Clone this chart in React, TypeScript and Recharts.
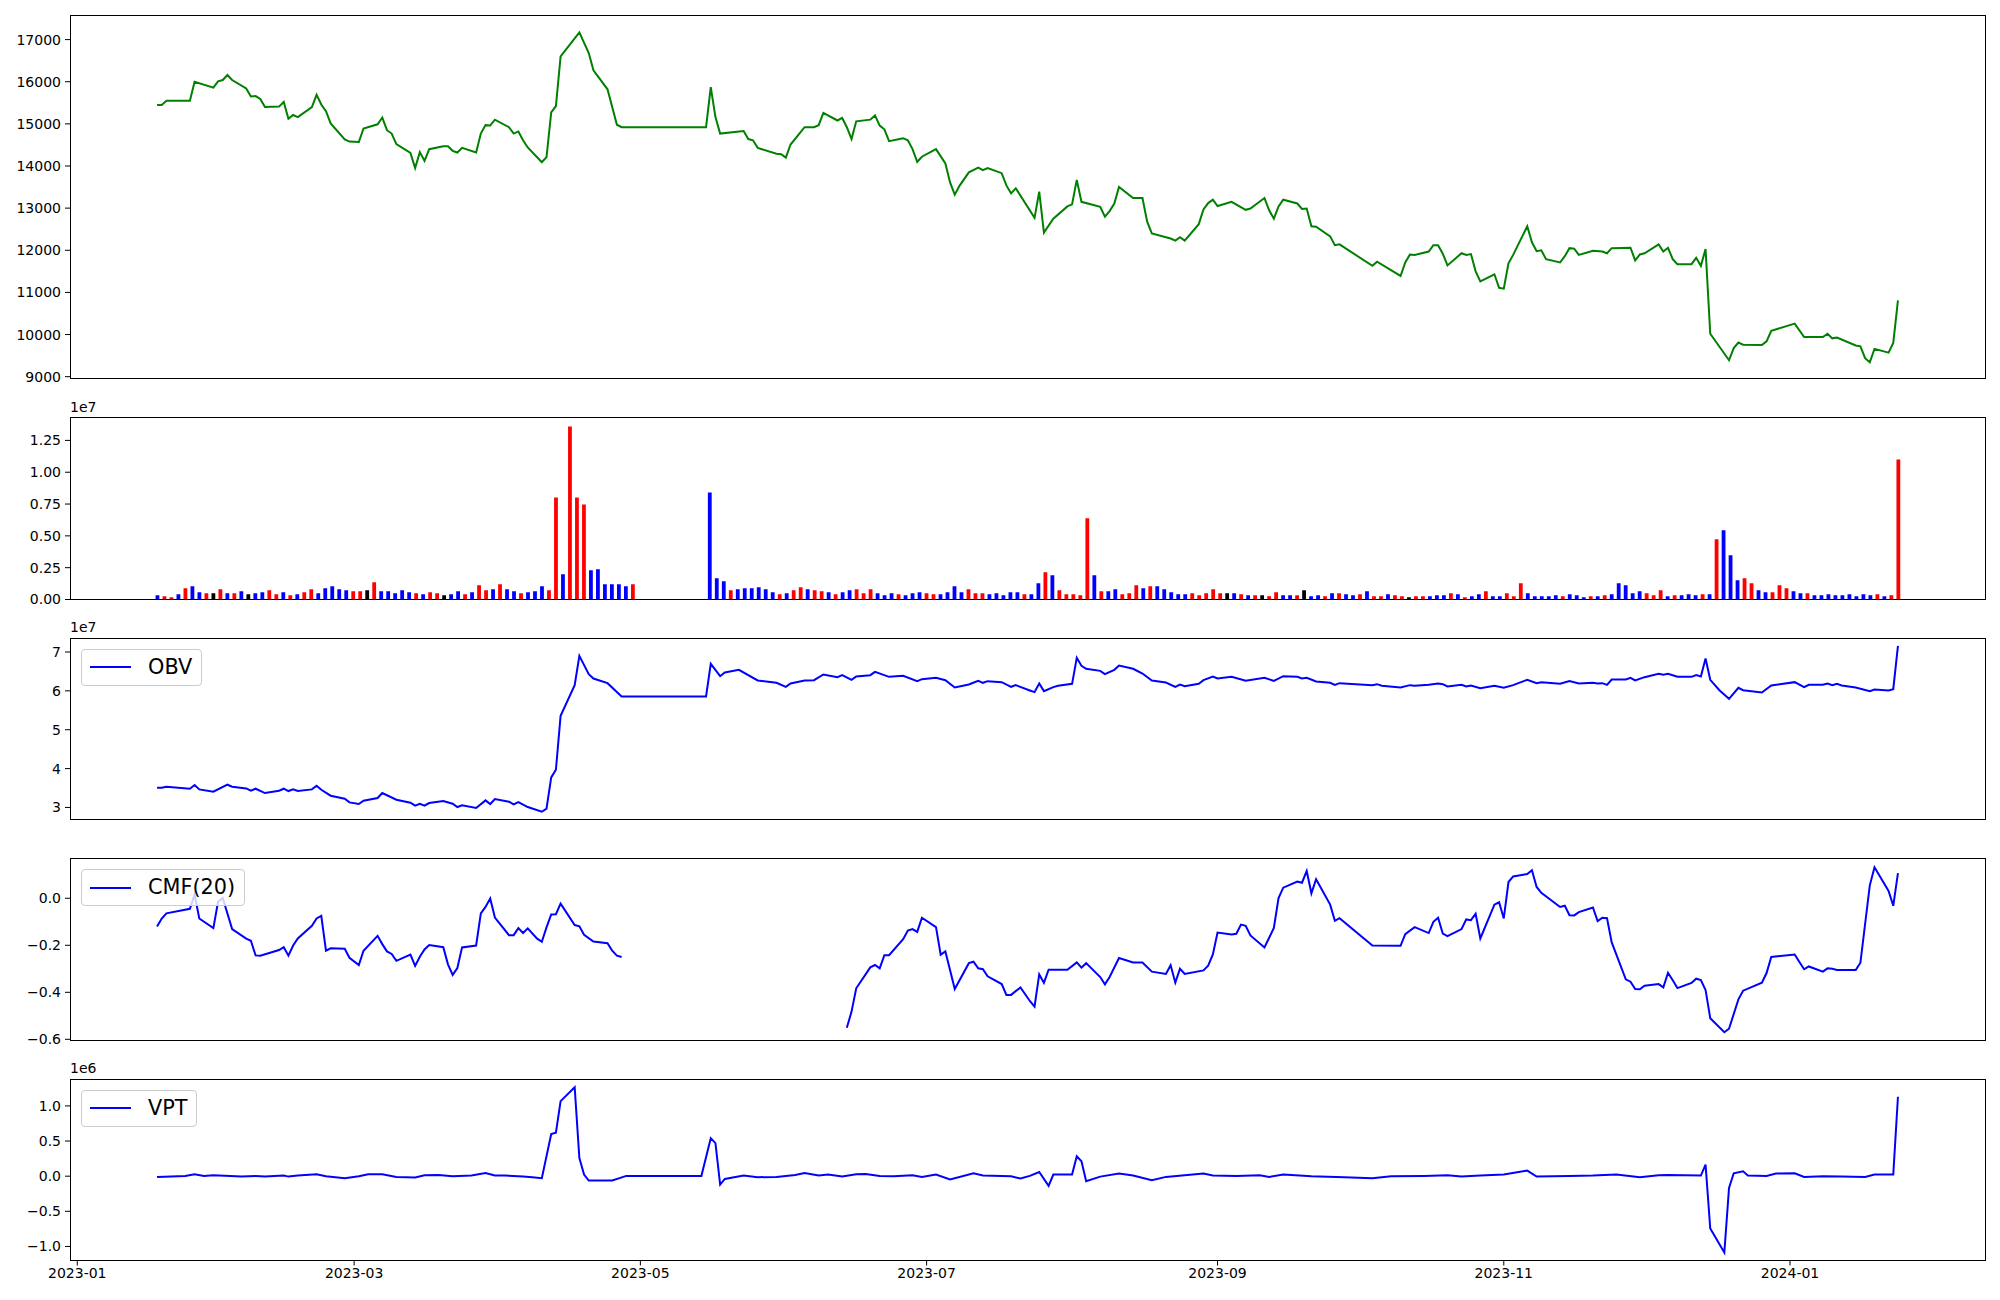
import React from "react";
import { Bar, Cell, ComposedChart, Line, XAxis, YAxis } from "recharts";

const FONT = "'DejaVu Sans', sans-serif";

// first and last session of the series; the time axis pads 5% on each side
const FIRST_DAY = "2023-01-18";
const LAST_DAY = "2024-01-24";
const X_TICKS = ["2023-01-01", "2023-03-01", "2023-05-01", "2023-07-01", "2023-09-01", "2023-11-01", "2024-01-01"];

// close price
const PRICE: [string, number][] = [
  ["2023-01-18", 15450], ["2023-01-19", 15450], ["2023-01-20", 15550], ["2023-01-25", 15550], ["2023-01-26", 16000],
  ["2023-01-30", 15860], ["2023-01-31", 16010], ["2023-02-01", 16040], ["2023-02-02", 16160], ["2023-02-03", 16040],
  ["2023-02-06", 15840], ["2023-02-07", 15650], ["2023-02-08", 15660], ["2023-02-09", 15590], ["2023-02-10", 15400],
  ["2023-02-13", 15410], ["2023-02-14", 15520], ["2023-02-15", 15120], ["2023-02-16", 15210], ["2023-02-17", 15160],
  ["2023-02-20", 15400], ["2023-02-21", 15690], ["2023-02-22", 15460], ["2023-02-23", 15300], ["2023-02-24", 15010],
  ["2023-02-27", 14630], ["2023-02-28", 14580], ["2023-03-02", 14570], ["2023-03-03", 14890], ["2023-03-06", 14990],
  ["2023-03-07", 15150], ["2023-03-08", 14850], ["2023-03-09", 14770], ["2023-03-10", 14520], ["2023-03-13", 14310],
  ["2023-03-14", 13950], ["2023-03-15", 14330], ["2023-03-16", 14120], ["2023-03-17", 14400], ["2023-03-20", 14470],
  ["2023-03-21", 14470], ["2023-03-22", 14360], ["2023-03-23", 14320], ["2023-03-24", 14430], ["2023-03-27", 14320],
  ["2023-03-28", 14770], ["2023-03-29", 14970], ["2023-03-30", 14960], ["2023-03-31", 15100], ["2023-04-03", 14920],
  ["2023-04-04", 14770], ["2023-04-05", 14820], ["2023-04-06", 14610], ["2023-04-07", 14440], ["2023-04-10", 14090],
  ["2023-04-11", 14210], ["2023-04-12", 15270], ["2023-04-13", 15420], ["2023-04-14", 16600], ["2023-04-18", 17170],
  ["2023-04-20", 16680], ["2023-04-21", 16270], ["2023-04-24", 15820], ["2023-04-26", 14980], ["2023-04-27", 14920],
  ["2023-05-15", 14920], ["2023-05-16", 15870], ["2023-05-17", 15160], ["2023-05-18", 14770], ["2023-05-23", 14830],
  ["2023-05-24", 14640], ["2023-05-25", 14610], ["2023-05-26", 14430], ["2023-05-30", 14290], ["2023-05-31", 14280],
  ["2023-06-01", 14200], ["2023-06-02", 14510], ["2023-06-05", 14920], ["2023-06-07", 14920], ["2023-06-08", 14970],
  ["2023-06-09", 15260], ["2023-06-12", 15080], ["2023-06-13", 15140], ["2023-06-14", 14920], ["2023-06-15", 14640],
  ["2023-06-16", 15060], ["2023-06-19", 15100], ["2023-06-20", 15200], ["2023-06-21", 14960], ["2023-06-22", 14870],
  ["2023-06-23", 14590], ["2023-06-26", 14660], ["2023-06-27", 14610], ["2023-06-28", 14400], ["2023-06-29", 14100],
  ["2023-06-30", 14220], ["2023-07-03", 14400], ["2023-07-05", 14060], ["2023-07-06", 13610], ["2023-07-07", 13320],
  ["2023-07-08", 13530], ["2023-07-10", 13850], ["2023-07-12", 13960], ["2023-07-13", 13900], ["2023-07-14", 13950],
  ["2023-07-17", 13830], ["2023-07-18", 13540], ["2023-07-19", 13350], ["2023-07-20", 13470], ["2023-07-24", 12770],
  ["2023-07-25", 13390], ["2023-07-26", 12420], ["2023-07-28", 12750], ["2023-07-31", 13040], ["2023-08-01", 13090],
  ["2023-08-02", 13670], ["2023-08-03", 13150], ["2023-08-07", 13030], ["2023-08-08", 12800], ["2023-08-09", 12930],
  ["2023-08-10", 13110], ["2023-08-11", 13500], ["2023-08-14", 13240], ["2023-08-16", 13240], ["2023-08-17", 12680],
  ["2023-08-18", 12400], ["2023-08-21", 12310], ["2023-08-22", 12280], ["2023-08-23", 12230], ["2023-08-24", 12310],
  ["2023-08-25", 12230], ["2023-08-28", 12620], ["2023-08-29", 12970], ["2023-08-30", 13120], ["2023-08-31", 13200],
  ["2023-09-01", 13050], ["2023-09-04", 13150], ["2023-09-07", 12960], ["2023-09-08", 12990], ["2023-09-11", 13240],
  ["2023-09-12", 12950], ["2023-09-13", 12750], ["2023-09-14", 13040], ["2023-09-15", 13200], ["2023-09-18", 13110],
  ["2023-09-19", 12980], ["2023-09-20", 12990], ["2023-09-21", 12570], ["2023-09-22", 12560], ["2023-09-25", 12330],
  ["2023-09-26", 12120], ["2023-09-27", 12140], ["2023-10-04", 11630], ["2023-10-05", 11730], ["2023-10-10", 11390],
  ["2023-10-11", 11710], ["2023-10-12", 11900], ["2023-10-13", 11890], ["2023-10-16", 11970], ["2023-10-17", 12120],
  ["2023-10-18", 12120], ["2023-10-19", 11920], ["2023-10-20", 11640], ["2023-10-23", 11930], ["2023-10-24", 11890],
  ["2023-10-25", 11910], ["2023-10-26", 11500], ["2023-10-27", 11260], ["2023-10-30", 11430], ["2023-10-31", 11110],
  ["2023-11-01", 11090], ["2023-11-02", 11690], ["2023-11-03", 11890], ["2023-11-06", 12570], ["2023-11-07", 12190],
  ["2023-11-08", 11980], ["2023-11-09", 12000], ["2023-11-10", 11790], ["2023-11-13", 11710], ["2023-11-14", 11860],
  ["2023-11-15", 12050], ["2023-11-16", 12040], ["2023-11-17", 11890], ["2023-11-20", 11990], ["2023-11-22", 11970],
  ["2023-11-23", 11930], ["2023-11-24", 12050], ["2023-11-28", 12060], ["2023-11-29", 11760], ["2023-11-30", 11900],
  ["2023-12-01", 11930], ["2023-12-04", 12140], ["2023-12-05", 11970], ["2023-12-06", 12060], ["2023-12-07", 11790],
  ["2023-12-08", 11670], ["2023-12-11", 11670], ["2023-12-12", 11820], ["2023-12-13", 11630], ["2023-12-14", 12030],
  ["2023-12-15", 10020], ["2023-12-19", 9390], ["2023-12-20", 9680], ["2023-12-21", 9810], ["2023-12-22", 9760],
  ["2023-12-26", 9750], ["2023-12-27", 9840], ["2023-12-28", 10090], ["2024-01-02", 10260], ["2024-01-04", 9940],
  ["2024-01-08", 9940], ["2024-01-09", 10020], ["2024-01-10", 9910], ["2024-01-11", 9930], ["2024-01-15", 9740],
  ["2024-01-16", 9720], ["2024-01-17", 9440], ["2024-01-18", 9340], ["2024-01-19", 9660], ["2024-01-22", 9570],
  ["2024-01-23", 9800], ["2024-01-24", 10810],
];

// daily volume, one bar per session, null where nothing traded
const VOLUME: (number | null)[] = [
  340000, 261000, 183000, 418000, 888000, 1045000, 575000, 496000, 496000, 810000,
  496000, 496000, 653000, 418000, 496000, 575000, 731000, 418000, 575000, 340000,
  418000, 575000, 810000, 496000, 888000, 1045000, 810000, 731000, 653000, 653000,
  731000, 1358000, 653000, 653000, 496000, 731000, 575000, 496000, 418000, 575000,
  496000, 340000, 418000, 653000, 418000, 575000, 1123000, 731000, 810000, 1202000,
  810000, 653000, 496000, 575000, 653000, 1045000, 731000, 8020000, 1985000, 13584000,
  8020000, 7471000, 2299000, 2377000, 1202000, 1202000, 1202000, 1045000, 1202000, null,
  null, null, null, null, null, null, null, null, null, 8412000,
  1672000, 1437000, 731000, 810000, 888000, 888000, 967000, 810000, 575000, 418000,
  496000, 731000, 967000, 810000, 731000, 653000, 575000, 418000, 575000, 731000,
  810000, 496000, 810000, 496000, 340000, 496000, 418000, 340000, 496000, 575000,
  496000, 418000, 418000, 575000, 1045000, 575000, 810000, 496000, 496000, 418000,
  496000, 340000, 575000, 575000, 418000, 418000, 1280000, 2142000, 1907000, 731000,
  418000, 418000, 340000, 6374000, 1907000, 653000, 653000, 810000, 418000, 496000,
  1123000, 888000, 1045000, 1045000, 810000, 575000, 418000, 418000, 496000, 340000,
  496000, 810000, 496000, 496000, 496000, 418000, 340000, 340000, 340000, 261000,
  575000, 340000, 340000, 340000, 731000, 261000, 340000, 261000, 496000, 496000,
  418000, 340000, 418000, 653000, 261000, 261000, 418000, 340000, 261000, 183000,
  261000, 261000, 261000, 340000, 340000, 496000, 418000, 183000, 261000, 418000,
  653000, 261000, 261000, 496000, 261000, 1280000, 496000, 261000, 261000, 261000,
  340000, 261000, 418000, 340000, 183000, 261000, 261000, 340000, 418000, 1280000,
  1123000, 496000, 653000, 496000, 340000, 731000, 261000, 340000, 340000, 418000,
  340000, 418000, 418000, 4728000, 5434000, 3474000, 1515000, 1672000, 1280000, 731000,
  575000, 575000, 1123000, 888000, 653000, 496000, 496000, 340000, 340000, 418000,
  340000, 340000, 418000, 261000, 418000, 340000, 418000, 261000, 340000, 10998000,
];

// bar colour per session: r = red, b = blue, k = black, - = no bar
const VOLUME_COLOR =
  "brrbrbbrkr" + "brbkbbrrbr" + "brrbbbbbrr" + "krbbbbbrbr" + "rkbbrbrrbr" +
  "bbrbbbrrbr" + "rrbbbbbbr-" + "---------b" + "bbrbbbbbbr" + "brrbrrbrbb" +
  "rrrbbbrbbb" + "rrbbbbrrrb" + "bbbbrbbrbr" + "rrrrbrbbrr" + "rbrbbbbbrr" +
  "rrrkbrbrkr" + "rbbrkbbrbr" + "bbrbrrbrrk" + "rrbbbrbrbb" + "rbbrrrbbbb" +
  "brbbbrbrbb" + "bbbrrrbrbb" + "brbrbbbrrb" + "brrrbbrbbb" + "bbbbbbrbrr";

// on-balance volume, millions of shares
const OBV: [string, number][] = [
  ["2023-01-18", 35.07], ["2023-01-19", 35.07], ["2023-01-20", 35.33], ["2023-01-25", 34.82], ["2023-01-26", 35.76],
  ["2023-01-27", 34.65], ["2023-01-30", 34.05], ["2023-02-02", 35.85], ["2023-02-03", 35.33], ["2023-02-06", 34.9],
  ["2023-02-07", 34.3], ["2023-02-08", 34.82], ["2023-02-10", 33.7], ["2023-02-13", 34.3], ["2023-02-14", 34.82],
  ["2023-02-15", 34.22], ["2023-02-16", 34.65], ["2023-02-17", 34.22], ["2023-02-20", 34.65], ["2023-02-21", 35.59],
  ["2023-02-22", 34.56], ["2023-02-24", 33.02], ["2023-02-27", 32.25], ["2023-02-28", 31.3], ["2023-03-02", 30.88],
  ["2023-03-03", 31.73], ["2023-03-06", 32.42], ["2023-03-07", 33.7], ["2023-03-10", 31.99], ["2023-03-13", 31.22],
  ["2023-03-14", 30.45], ["2023-03-15", 30.96], ["2023-03-16", 30.45], ["2023-03-17", 31.13], ["2023-03-20", 31.65],
  ["2023-03-22", 30.96], ["2023-03-23", 30.11], ["2023-03-24", 30.53], ["2023-03-27", 29.85], ["2023-03-29", 31.82],
  ["2023-03-30", 30.88], ["2023-03-31", 32.16], ["2023-04-03", 31.48], ["2023-04-04", 30.79], ["2023-04-05", 31.39],
  ["2023-04-07", 30.11], ["2023-04-10", 28.9], ["2023-04-11", 29.68], ["2023-04-12", 37.73], ["2023-04-13", 39.7],
  ["2023-04-14", 53.58], ["2023-04-17", 61.47], ["2023-04-18", 69.01], ["2023-04-20", 64.29], ["2023-04-21", 63.18],
  ["2023-04-24", 61.98], ["2023-04-27", 58.55], ["2023-05-15", 58.55], ["2023-05-16", 66.95], ["2023-05-18", 63.78],
  ["2023-05-19", 64.72], ["2023-05-22", 65.41], ["2023-05-26", 62.67], ["2023-05-30", 62.07], ["2023-06-01", 61.04],
  ["2023-06-02", 61.9], ["2023-06-05", 62.67], ["2023-06-07", 62.75], ["2023-06-09", 64.21], ["2023-06-12", 63.52],
  ["2023-06-13", 64.04], ["2023-06-15", 62.84], ["2023-06-16", 63.7], ["2023-06-19", 64.04], ["2023-06-20", 64.89],
  ["2023-06-23", 63.61], ["2023-06-26", 63.87], ["2023-06-29", 62.49], ["2023-06-30", 63.01], ["2023-07-03", 63.35],
  ["2023-07-05", 62.75], ["2023-07-07", 60.87], ["2023-07-10", 61.64], ["2023-07-12", 62.58], ["2023-07-13", 62.07],
  ["2023-07-14", 62.5], ["2023-07-17", 62.24], ["2023-07-19", 61.04], ["2023-07-20", 61.47], ["2023-07-23", 60.1],
  ["2023-07-24", 59.67], ["2023-07-25", 61.9], ["2023-07-26", 59.93], ["2023-07-28", 60.95], ["2023-07-29", 61.3],
  ["2023-08-01", 61.81], ["2023-08-02", 68.49], ["2023-08-03", 66.44], ["2023-08-04", 65.67], ["2023-08-07", 65.15],
  ["2023-08-08", 64.29], ["2023-08-10", 65.41], ["2023-08-11", 66.52], ["2023-08-14", 65.67], ["2023-08-16", 64.47],
  ["2023-08-18", 62.67], ["2023-08-21", 62.15], ["2023-08-23", 61.04], ["2023-08-24", 61.64], ["2023-08-25", 61.21],
  ["2023-08-28", 61.81], ["2023-08-29", 62.75], ["2023-08-31", 63.7], ["2023-09-01", 63.18], ["2023-09-04", 63.61],
  ["2023-09-07", 62.58], ["2023-09-11", 63.35], ["2023-09-13", 62.58], ["2023-09-15", 63.78], ["2023-09-18", 63.61],
  ["2023-09-19", 63.18], ["2023-09-20", 63.35], ["2023-09-22", 62.41], ["2023-09-25", 62.07], ["2023-09-26", 61.55],
  ["2023-09-27", 61.98], ["2023-10-04", 61.47], ["2023-10-05", 61.72], ["2023-10-06", 61.3], ["2023-10-10", 60.87],
  ["2023-10-12", 61.47], ["2023-10-13", 61.3], ["2023-10-16", 61.55], ["2023-10-18", 61.9], ["2023-10-19", 61.72],
  ["2023-10-20", 61.12], ["2023-10-23", 61.55], ["2023-10-24", 61.12], ["2023-10-25", 61.38], ["2023-10-27", 60.7],
  ["2023-10-30", 61.3], ["2023-11-01", 60.78], ["2023-11-03", 61.47], ["2023-11-06", 62.84], ["2023-11-08", 61.98],
  ["2023-11-09", 62.24], ["2023-11-13", 61.81], ["2023-11-15", 62.5], ["2023-11-17", 61.9], ["2023-11-20", 62.07],
  ["2023-11-21", 61.9], ["2023-11-22", 61.98], ["2023-11-23", 61.55], ["2023-11-24", 62.92], ["2023-11-27", 62.92],
  ["2023-11-28", 63.35], ["2023-11-29", 62.67], ["2023-12-01", 63.52], ["2023-12-04", 64.38], ["2023-12-05", 64.12],
  ["2023-12-06", 64.38], ["2023-12-08", 63.61], ["2023-12-11", 63.61], ["2023-12-12", 64.04], ["2023-12-13", 63.7],
  ["2023-12-14", 68.32], ["2023-12-15", 62.84], ["2023-12-17", 60.1], ["2023-12-19", 57.95], ["2023-12-21", 60.78],
  ["2023-12-22", 60.18], ["2023-12-26", 59.58], ["2023-12-28", 61.38], ["2024-01-02", 62.24], ["2024-01-04", 60.95],
  ["2024-01-05", 61.55], ["2024-01-08", 61.55], ["2024-01-09", 61.9], ["2024-01-10", 61.47], ["2024-01-11", 61.81],
  ["2024-01-12", 61.38], ["2024-01-15", 60.87], ["2024-01-18", 59.93], ["2024-01-19", 60.35], ["2024-01-22", 60.1],
  ["2024-01-23", 60.44], ["2024-01-24", 71.58],
];

// Chaikin money flow, 20 sessions (undefined while the window has no volume)
const CMF: [string, number | null][] = [
  ["2023-01-18", -0.12], ["2023-01-19", -0.086], ["2023-01-20", -0.064], ["2023-01-25", -0.045], ["2023-01-26", 0.016],
  ["2023-01-27", -0.086], ["2023-01-30", -0.127], ["2023-01-31", -0.015], ["2023-02-01", 0.001], ["2023-02-03", -0.131],
  ["2023-02-06", -0.172], ["2023-02-07", -0.181], ["2023-02-08", -0.243], ["2023-02-09", -0.244], ["2023-02-13", -0.22],
  ["2023-02-14", -0.208], ["2023-02-15", -0.244], ["2023-02-16", -0.201], ["2023-02-17", -0.171], ["2023-02-20", -0.117],
  ["2023-02-21", -0.086], ["2023-02-22", -0.075], ["2023-02-23", -0.223], ["2023-02-24", -0.213], ["2023-02-27", -0.215],
  ["2023-02-28", -0.253], ["2023-03-02", -0.284], ["2023-03-03", -0.223], ["2023-03-06", -0.16], ["2023-03-07", -0.195],
  ["2023-03-08", -0.226], ["2023-03-09", -0.237], ["2023-03-10", -0.266], ["2023-03-13", -0.24], ["2023-03-14", -0.288],
  ["2023-03-15", -0.249], ["2023-03-16", -0.218], ["2023-03-17", -0.199], ["2023-03-20", -0.208], ["2023-03-21", -0.281],
  ["2023-03-22", -0.326], ["2023-03-23", -0.297], ["2023-03-24", -0.209], ["2023-03-27", -0.201], ["2023-03-28", -0.064],
  ["2023-03-29", -0.037], ["2023-03-30", -0.001], ["2023-03-31", -0.082], ["2023-04-03", -0.157], ["2023-04-04", -0.157],
  ["2023-04-05", -0.127], ["2023-04-06", -0.148], ["2023-04-07", -0.128], ["2023-04-09", -0.172], ["2023-04-10", -0.185],
  ["2023-04-11", -0.124], ["2023-04-12", -0.069], ["2023-04-13", -0.068], ["2023-04-14", -0.023], ["2023-04-17", -0.114],
  ["2023-04-18", -0.119], ["2023-04-19", -0.155], ["2023-04-21", -0.184], ["2023-04-24", -0.191], ["2023-04-25", -0.223],
  ["2023-04-26", -0.244], ["2023-04-27", -0.25], ["2023-05-15", null],
  ["2023-06-14", -0.551], ["2023-06-15", -0.482], ["2023-06-16", -0.383], ["2023-06-19", -0.294], ["2023-06-20", -0.284],
  ["2023-06-21", -0.298], ["2023-06-22", -0.242], ["2023-06-23", -0.242], ["2023-06-26", -0.174], ["2023-06-27", -0.137],
  ["2023-06-28", -0.131], ["2023-06-29", -0.143], ["2023-06-30", -0.083], ["2023-07-03", -0.123], ["2023-07-04", -0.24],
  ["2023-07-05", -0.226], ["2023-07-07", -0.386], ["2023-07-10", -0.276], ["2023-07-11", -0.27], ["2023-07-12", -0.298],
  ["2023-07-13", -0.302], ["2023-07-14", -0.332], ["2023-07-17", -0.365], ["2023-07-18", -0.411], ["2023-07-19", -0.411],
  ["2023-07-21", -0.379], ["2023-07-23", -0.437], ["2023-07-24", -0.461], ["2023-07-25", -0.324], ["2023-07-26", -0.36],
  ["2023-07-27", -0.304], ["2023-07-31", -0.304], ["2023-08-02", -0.273], ["2023-08-03", -0.295], ["2023-08-04", -0.276],
  ["2023-08-07", -0.335], ["2023-08-08", -0.366], ["2023-08-09", -0.335], ["2023-08-11", -0.254], ["2023-08-14", -0.273],
  ["2023-08-16", -0.273], ["2023-08-18", -0.312], ["2023-08-21", -0.322], ["2023-08-22", -0.285], ["2023-08-23", -0.359],
  ["2023-08-24", -0.3], ["2023-08-25", -0.322], ["2023-08-29", -0.307], ["2023-08-30", -0.287], ["2023-08-31", -0.239],
  ["2023-09-01", -0.146], ["2023-09-04", -0.154], ["2023-09-05", -0.151], ["2023-09-06", -0.112], ["2023-09-07", -0.117],
  ["2023-09-08", -0.158], ["2023-09-11", -0.209], ["2023-09-12", -0.168], ["2023-09-13", -0.126], ["2023-09-14", 0.001],
  ["2023-09-15", 0.045], ["2023-09-18", 0.071], ["2023-09-19", 0.066], ["2023-09-20", 0.116], ["2023-09-21", 0.021],
  ["2023-09-22", 0.081], ["2023-09-25", -0.027], ["2023-09-26", -0.096], ["2023-09-27", -0.085], ["2023-10-04", -0.201],
  ["2023-10-10", -0.202], ["2023-10-11", -0.153], ["2023-10-13", -0.123], ["2023-10-16", -0.148], ["2023-10-17", -0.1],
  ["2023-10-18", -0.083], ["2023-10-19", -0.15], ["2023-10-20", -0.161], ["2023-10-23", -0.131], ["2023-10-24", -0.09],
  ["2023-10-25", -0.093], ["2023-10-26", -0.066], ["2023-10-27", -0.171], ["2023-10-30", -0.027], ["2023-10-31", -0.017],
  ["2023-11-01", -0.086], ["2023-11-02", 0.069], ["2023-11-03", 0.093], ["2023-11-06", 0.103], ["2023-11-07", 0.119],
  ["2023-11-08", 0.048], ["2023-11-09", 0.023], ["2023-11-13", -0.037], ["2023-11-14", -0.032], ["2023-11-15", -0.072],
  ["2023-11-16", -0.073], ["2023-11-17", -0.059], ["2023-11-20", -0.039], ["2023-11-21", -0.097], ["2023-11-22", -0.083],
  ["2023-11-23", -0.085], ["2023-11-24", -0.188], ["2023-11-27", -0.345], ["2023-11-28", -0.355], ["2023-11-29", -0.386],
  ["2023-11-30", -0.387], ["2023-12-01", -0.372], ["2023-12-04", -0.365], ["2023-12-05", -0.379], ["2023-12-06", -0.317],
  ["2023-12-07", -0.349], ["2023-12-08", -0.382], ["2023-12-11", -0.36], ["2023-12-12", -0.342], ["2023-12-13", -0.348],
  ["2023-12-14", -0.39], ["2023-12-15", -0.51], ["2023-12-18", -0.57], ["2023-12-19", -0.555], ["2023-12-21", -0.43],
  ["2023-12-22", -0.393], ["2023-12-26", -0.359], ["2023-12-27", -0.318], ["2023-12-28", -0.25], ["2024-01-02", -0.239],
  ["2024-01-03", -0.271], ["2024-01-04", -0.302], ["2024-01-05", -0.29], ["2024-01-08", -0.312], ["2024-01-09", -0.298],
  ["2024-01-10", -0.3], ["2024-01-11", -0.305], ["2024-01-15", -0.305], ["2024-01-16", -0.274], ["2024-01-18", 0.055],
  ["2024-01-19", 0.132], ["2024-01-22", 0.031], ["2024-01-23", -0.032], ["2024-01-24", 0.107],
];

// volume price trend, millions
const VPT: [string, number][] = [
  ["2023-01-18", -0.01], ["2023-01-24", 0.004], ["2023-01-26", 0.027], ["2023-01-28", 0.004], ["2023-01-30", 0.013],
  ["2023-02-05", -0.006], ["2023-02-08", 0.004], ["2023-02-10", -0.006], ["2023-02-14", 0.009], ["2023-02-15", -0.006],
  ["2023-02-17", 0.009], ["2023-02-21", 0.027], ["2023-02-23", -0.001], ["2023-02-27", -0.029], ["2023-03-02", -0.001],
  ["2023-03-04", 0.027], ["2023-03-07", 0.027], ["2023-03-10", -0.01], ["2023-03-14", -0.02], ["2023-03-16", 0.013],
  ["2023-03-19", 0.018], ["2023-03-22", -0.001], ["2023-03-26", 0.009], ["2023-03-29", 0.046], ["2023-03-31", 0.009],
  ["2023-04-02", 0.009], ["2023-04-06", -0.006], ["2023-04-08", -0.015], ["2023-04-10", -0.029], ["2023-04-12", 0.6],
  ["2023-04-13", 0.62], ["2023-04-14", 1.068], ["2023-04-17", 1.266], ["2023-04-18", 0.258], ["2023-04-19", 0.023],
  ["2023-04-20", -0.062], ["2023-04-25", -0.062], ["2023-04-28", 0.004], ["2023-05-14", 0.004], ["2023-05-16", 0.541],
  ["2023-05-17", 0.47], ["2023-05-18", -0.119], ["2023-05-19", -0.039], ["2023-05-23", 0.009], ["2023-05-26", -0.015],
  ["2023-05-30", -0.01], ["2023-06-03", 0.018], ["2023-06-05", 0.046], ["2023-06-08", 0.009], ["2023-06-10", 0.023],
  ["2023-06-13", -0.006], ["2023-06-16", 0.027], ["2023-06-18", 0.032], ["2023-06-21", 0.004], ["2023-06-24", -0.001],
  ["2023-06-28", 0.013], ["2023-06-30", -0.01], ["2023-07-03", 0.023], ["2023-07-06", -0.048], ["2023-07-11", 0.041],
  ["2023-07-13", 0.009], ["2023-07-19", -0.001], ["2023-07-21", -0.034], ["2023-07-23", 0.004], ["2023-07-25", 0.06],
  ["2023-07-27", -0.138], ["2023-07-28", 0.023], ["2023-08-01", 0.023], ["2023-08-02", 0.282], ["2023-08-03", 0.211],
  ["2023-08-04", -0.072], ["2023-08-07", -0.006], ["2023-08-11", 0.037], ["2023-08-14", 0.009], ["2023-08-18", -0.057],
  ["2023-08-21", -0.01], ["2023-08-25", 0.013], ["2023-08-29", 0.037], ["2023-08-31", 0.009], ["2023-09-05", 0.004],
  ["2023-09-10", 0.013], ["2023-09-12", -0.01], ["2023-09-15", 0.023], ["2023-09-21", -0.001], ["2023-09-28", -0.015],
  ["2023-10-04", -0.029], ["2023-10-08", -0.001], ["2023-10-15", 0.004], ["2023-10-20", 0.013], ["2023-10-23", -0.006],
  ["2023-10-27", 0.009], ["2023-11-01", 0.023], ["2023-11-06", 0.08], ["2023-11-08", -0.006], ["2023-11-15", 0.004],
  ["2023-11-20", 0.009], ["2023-11-25", 0.023], ["2023-11-30", -0.015], ["2023-12-04", 0.013], ["2023-12-06", 0.018],
  ["2023-12-13", 0.009], ["2023-12-14", 0.164], ["2023-12-15", -0.745], ["2023-12-18", -1.085], ["2023-12-19", -0.166],
  ["2023-12-20", 0.041], ["2023-12-22", 0.069], ["2023-12-23", 0.009], ["2023-12-27", 0.004], ["2023-12-29", 0.037],
  ["2024-01-02", 0.041], ["2024-01-04", -0.01], ["2024-01-08", -0.001], ["2024-01-12", -0.006], ["2024-01-17", -0.01],
  ["2024-01-19", 0.023], ["2024-01-23", 0.023], ["2024-01-24", 1.131],
];

const BAR_FILL: Record<string, string> = { r: "#ff0000", b: "#0000ff", k: "#000000", "-": "none" };

const t0 = Date.parse(FIRST_DAY);
const t1 = Date.parse(LAST_DAY);
const pad = (t1 - t0) * 0.05;
const X_DOMAIN: [number, number] = [t0 - pad, t1 + pad];
const X_TICK_TS = X_TICKS.map((d) => Date.parse(d));

const toRows = (rows: [string, number | null][], k = 1) =>
  rows.map(([d, v]) => ({ t: Date.parse(d), v: v === null ? null : v * k }));

const priceRows = toRows(PRICE);
const obvRows = toRows(OBV, 1e6);
const cmfRows = toRows(CMF);
const vptRows = toRows(VPT, 1e6);
// the volume bars sit on an even grid between the first and last session
const volumeRows = VOLUME.map((v, i) => ({
  t: t0 + ((t1 - t0) * i) / (VOLUME.length - 1),
  v,
  c: VOLUME_COLOR[i] ?? "b",
}));

const minus = (s: string) => s.replace("-", "\u2212");
const monthLabel = (t: number) => {
  const d = new Date(t);
  return `${d.getUTCFullYear()}-${String(d.getUTCMonth() + 1).padStart(2, "0")}`;
};

const TICK = { fill: "#000", fontSize: 14, fontFamily: FONT };
const PLOT_LEFT = 70;
const PLOT_RIGHT = 1985;

type PanelProps = {
  top: number;
  height: number;
  data: object[];
  yDomain: [number, number];
  yTicks: number[];
  yFormat: (v: number) => string;
  showX?: boolean;
  children: React.ReactNode;
};

function Panel({ top, height, data, yDomain, yTicks, yFormat, showX = false, children }: PanelProps) {
  const mt = 10;
  const mb = showX ? 0 : 10;
  const xh = showX ? 40 : 0;
  return (
    <div style={{ position: "absolute", left: 0, top: top - mt }}>
      <ComposedChart
        width={2000}
        height={mt + height + mb + xh}
        data={data}
        margin={{ top: mt, right: 2000 - PLOT_RIGHT, bottom: mb, left: 0 }}
      >
        <XAxis
          type="number"
          dataKey="t"
          domain={X_DOMAIN}
          allowDataOverflow
          hide={!showX}
          height={xh}
          ticks={X_TICK_TS}
          interval={0}
          tickFormatter={monthLabel}
          axisLine={false}
          tickLine={{ stroke: "#000", strokeWidth: 1 }}
          tickSize={5}
          tickMargin={3}
          tick={TICK}
        />
        <YAxis
          type="number"
          width={PLOT_LEFT}
          domain={yDomain}
          allowDataOverflow
          ticks={yTicks}
          interval={0}
          tickFormatter={yFormat}
          axisLine={false}
          tickLine={{ stroke: "#000", strokeWidth: 1 }}
          tickSize={5}
          tickMargin={4}
          tick={TICK}
        />
        {children}
      </ComposedChart>
      <div
        style={{
          position: "absolute",
          left: PLOT_LEFT - 0.5,
          top: mt - 0.5,
          width: PLOT_RIGHT - PLOT_LEFT + 1,
          height: height + 1,
          border: "1px solid #000",
          boxSizing: "border-box",
          pointerEvents: "none",
        }}
      />
    </div>
  );
}

function LegendBox({ top, label }: { top: number; label: string }) {
  return (
    <div
      style={{
        position: "absolute",
        left: 80.6,
        top: top + 10.4,
        display: "flex",
        alignItems: "center",
        padding: "8px 8.3px",
        fontFamily: FONT,
        fontSize: 20.8,
        lineHeight: "19px",
        background: "rgba(255,255,255,0.8)",
        border: "1px solid #cccccc",
        borderRadius: 4,
        color: "#000",
      }}
    >
      <span style={{ display: "inline-block", width: 41.6, height: 2, background: "#0000ff", marginRight: 16.6 }} />
      <span>{label}</span>
    </div>
  );
}

function OffsetText({ top, text }: { top: number; text: string }) {
  return (
    <div
      style={{
        position: "absolute",
        left: PLOT_LEFT,
        top: top - 19,
        fontFamily: FONT,
        fontSize: 14,
        lineHeight: "16px",
        color: "#000",
      }}
    >
      {text}
    </div>
  );
}

const P = [15.5, 417.6, 638.2, 858.8, 1079.4];
const H_MAIN = 363;
const H_SUB = 181.5;

export default function App() {
  return (
    <div style={{ position: "absolute", left: 0, top: 0, width: 2000, height: 1300, background: "#fff" }}>
      <Panel
        top={P[0]}
        height={H_MAIN}
        data={priceRows}
        yDomain={[8945, 17560]}
        yTicks={[9000, 10000, 11000, 12000, 13000, 14000, 15000, 16000, 17000]}
        yFormat={(v) => String(v)}
      >
        <Line type="linear" dataKey="v" stroke="#008000" strokeWidth={2} dot={false} isAnimationActive={false} />
      </Panel>

      <Panel
        top={P[1]}
        height={H_SUB}
        data={volumeRows}
        yDomain={[0, 14260000]}
        yTicks={[0, 2500000, 5000000, 7500000, 10000000, 12500000]}
        yFormat={(v) => (v / 1e7).toFixed(2)}
      >
        <Bar dataKey="v" barSize={3.8} isAnimationActive={false}>
          {volumeRows.map((r, i) => (
            <Cell key={i} fill={BAR_FILL[r.c]} />
          ))}
        </Bar>
      </Panel>
      <OffsetText top={P[1]} text="1e7" />

      <Panel
        top={P[2]}
        height={H_SUB}
        data={obvRows}
        yDomain={[26.9e6, 73.6e6]}
        yTicks={[3e7, 4e7, 5e7, 6e7, 7e7]}
        yFormat={(v) => String(Math.round(v / 1e7))}
      >
        <Line type="linear" dataKey="v" stroke="#0000ff" strokeWidth={2} dot={false} isAnimationActive={false} />
      </Panel>
      <OffsetText top={P[2]} text="1e7" />
      <LegendBox top={P[2]} label="OBV" />

      <Panel
        top={P[3]}
        height={H_SUB}
        data={cmfRows}
        yDomain={[-0.605, 0.167]}
        yTicks={[-0.6, -0.4, -0.2, 0]}
        yFormat={(v) => minus(v.toFixed(1))}
      >
        <Line
          type="linear"
          dataKey="v"
          stroke="#0000ff"
          strokeWidth={2}
          dot={false}
          connectNulls={false}
          isAnimationActive={false}
        />
      </Panel>
      <LegendBox top={P[3]} label="CMF(20)" />

      <Panel
        top={P[4]}
        height={H_SUB}
        data={vptRows}
        yDomain={[-1.2e6, 1.383e6]}
        yTicks={[-1e6, -5e5, 0, 5e5, 1e6]}
        yFormat={(v) => minus((v / 1e6).toFixed(1))}
        showX
      >
        <Line type="linear" dataKey="v" stroke="#0000ff" strokeWidth={2} dot={false} isAnimationActive={false} />
      </Panel>
      <OffsetText top={P[4]} text="1e6" />
      <LegendBox top={P[4]} label="VPT" />
    </div>
  );
}
